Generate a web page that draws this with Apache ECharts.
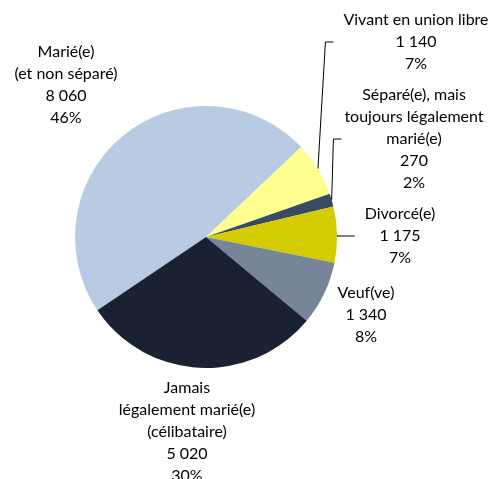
<!DOCTYPE html>
<html>
<head>
<meta charset="utf-8">
<script src="https://cdn.jsdelivr.net/npm/echarts@6/dist/echarts.min.js"></script>
<style>
  html, body { margin: 0; padding: 0; background: #fff; }
  #chart { width: 493px; height: 479px; }
</style>
</head>
<body>
<div id="chart"></div>
<script>
// etat matrimonial
var categories = ['Marié(e)\n(et non séparé)', 'Vivant en union libre', 'Séparé(e), mais\ntoujours légalement\nmarié(e)', 'Divorcé(e)', 'Veuf(ve)', 'Jamais\nlégalement marié(e)\n(célibataire)'];
var values = [8060, 1140, 270, 1175, 1340, 5020];
var percents = [46, 7, 2, 7, 8, 30];
var colors = ['#B9CBE2', '#FFFF8F', '#384B63', '#D4CC00', '#778599', '#1A2133'];
var hasLeader = [false, true, true, true, false, false];

// position des etiquettes (centre du bloc)
var labelPos = [[66, 85], [416, 42], [414, 139], [400, 236], [366, 315], [187, 432]];
var leaderGap = [0, 10, 3, 10, 0, 0];

function fmt(n) {
    return String(n).replace(/\B(?=(\d{3})+(?!\d))/g, ' ');
}

var chart = echarts.init(document.getElementById('chart'));
var option = {
    animation: false,
    series: [{
        type: 'pie',
        center: [206, 237],
        radius: [0, 131],
        startAngle: 214,
        clockwise: true,
        avoidLabelOverlap: false,
        data: values.map(function (v, i) {
            return {
                value: v,
                name: categories[i],
                itemStyle: { color: colors[i] },
                labelLine: { show: hasLeader[i] }
            };
        }),
        label: {
            show: true,
            position: 'outside',
            fontFamily: 'Lato',
            fontSize: 16,
            lineHeight: 22,
            color: '#000',
            formatter: function (p) {
                return p.name + '\n' + fmt(p.value) + '\n' + percents[p.dataIndex] + '%';
            }
        },
        labelLine: {
            lineStyle: { color: '#000', width: 1 },
            smooth: false
        },
        labelLayout: function (p) {
            var i = p.dataIndex;
            var pos = labelPos[i];
            var res = { x: pos[0], y: pos[1], align: 'center', verticalAlign: 'middle' };
            if (hasLeader[i] && p.labelLinePoints) {
                var start = p.labelLinePoints[0];
                var endX = pos[0] - p.labelRect.width / 2 - leaderGap[i];
                var bendX = i === 3 ? start[0] : endX - 8;
                res.labelLinePoints = [start, [bendX, pos[1]], [endX, pos[1]]];
            }
            return res;
        }
    }]
};
chart.setOption(option);
</script>
</body>
</html>
